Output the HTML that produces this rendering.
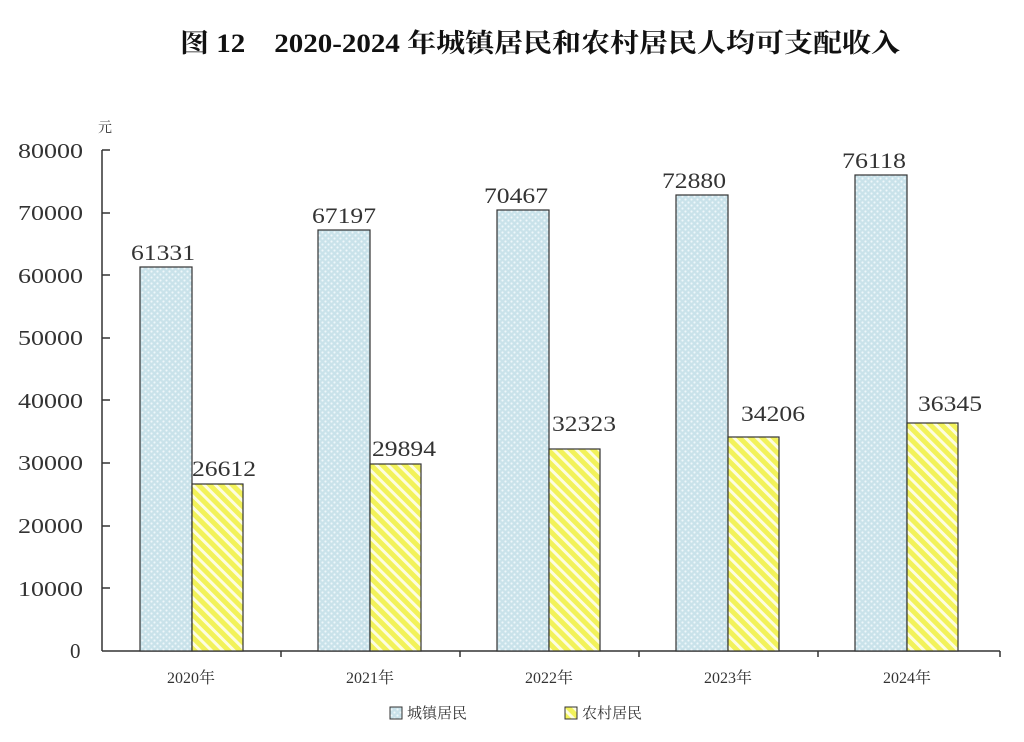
<!DOCTYPE html>
<html><head><meta charset="utf-8"><style>
html,body{margin:0;padding:0;background:#fff;}
svg{display:block;font-family:"Liberation Serif","Noto Serif CJK SC",serif;}
</style></head><body>
<svg width="1024" height="742" viewBox="0 0 1024 742">
<defs>
<pattern id="dots" width="6" height="6" patternUnits="userSpaceOnUse">
<rect width="6" height="6" fill="#c9e2ea"/>
<circle cx="1.5" cy="1.5" r="1.1" fill="#eef7fa"/>
<circle cx="4.5" cy="4.5" r="1.1" fill="#eef7fa"/>
</pattern>
<pattern id="stripes" width="8" height="8" patternUnits="userSpaceOnUse" patternTransform="rotate(-45)">
<rect width="8" height="8" fill="#f2f25a"/>
<rect width="3" height="8" fill="#fdfde0"/>
</pattern>
</defs>
<text x="180" y="52" textLength="720" lengthAdjust="spacingAndGlyphs" font-size="26" font-weight="bold" font-family="'Liberation Serif','Noto Serif CJK SC',serif" fill="#111">图 12　2020-2024 年城镇居民和农村居民人均可支配收入</text>
<text x="98" y="132" font-size="14" fill="#333">元</text>
<g font-size="21" fill="#333" lengthAdjust="spacingAndGlyphs">
<text x="18" y="158" textLength="65" lengthAdjust="spacingAndGlyphs">80000</text><text x="18" y="220" textLength="65" lengthAdjust="spacingAndGlyphs">70000</text><text x="18" y="283" textLength="65" lengthAdjust="spacingAndGlyphs">60000</text>
<text x="18" y="345" textLength="65" lengthAdjust="spacingAndGlyphs">50000</text><text x="18" y="408" textLength="65" lengthAdjust="spacingAndGlyphs">40000</text><text x="18" y="470" textLength="65" lengthAdjust="spacingAndGlyphs">30000</text>
<text x="18" y="533" textLength="65" lengthAdjust="spacingAndGlyphs">20000</text><text x="18" y="596" textLength="65" lengthAdjust="spacingAndGlyphs">10000</text><text x="70" y="658">0</text>
</g>
<g stroke="#333" stroke-width="1.5">
<line x1="102" y1="150" x2="102" y2="651"/>
<line x1="102" y1="651" x2="1000" y2="651"/>
<line x1="102" y1="150" x2="110" y2="150"/><line x1="102" y1="213" x2="110" y2="213"/>
<line x1="102" y1="275" x2="110" y2="275"/><line x1="102" y1="338" x2="110" y2="338"/>
<line x1="102" y1="400" x2="110" y2="400"/><line x1="102" y1="463" x2="110" y2="463"/>
<line x1="102" y1="526" x2="110" y2="526"/><line x1="102" y1="588" x2="110" y2="588"/>
<line x1="281" y1="651" x2="281" y2="657"/><line x1="460" y1="651" x2="460" y2="657"/>
<line x1="639" y1="651" x2="639" y2="657"/><line x1="818" y1="651" x2="818" y2="657"/>
<line x1="1000" y1="651" x2="1000" y2="657"/>
</g>
<g stroke="#333" stroke-width="1.2">
<rect x="140" y="267" width="52" height="384" fill="url(#dots)"/>
<rect x="192" y="484" width="51" height="167" fill="url(#stripes)"/>
<rect x="318" y="230" width="52" height="421" fill="url(#dots)"/>
<rect x="370" y="464" width="51" height="187" fill="url(#stripes)"/>
<rect x="497" y="210" width="52" height="441" fill="url(#dots)"/>
<rect x="549" y="449" width="51" height="202" fill="url(#stripes)"/>
<rect x="676" y="195" width="52" height="456" fill="url(#dots)"/>
<rect x="728" y="437" width="51" height="214" fill="url(#stripes)"/>
<rect x="855" y="175" width="52" height="476" fill="url(#dots)"/>
<rect x="907" y="423" width="51" height="228" fill="url(#stripes)"/>
</g>
<g font-size="22" fill="#333">
<text x="131" y="260" textLength="64" lengthAdjust="spacingAndGlyphs">61331</text><text x="192" y="476" textLength="64" lengthAdjust="spacingAndGlyphs">26612</text>
<text x="312" y="223" textLength="64" lengthAdjust="spacingAndGlyphs">67197</text><text x="372" y="456" textLength="64" lengthAdjust="spacingAndGlyphs">29894</text>
<text x="484" y="203" textLength="64" lengthAdjust="spacingAndGlyphs">70467</text><text x="552" y="431" textLength="64" lengthAdjust="spacingAndGlyphs">32323</text>
<text x="662" y="188" textLength="64" lengthAdjust="spacingAndGlyphs">72880</text><text x="741" y="421" textLength="64" lengthAdjust="spacingAndGlyphs">34206</text>
<text x="842" y="168" textLength="64" lengthAdjust="spacingAndGlyphs">76118</text><text x="918" y="411" textLength="64" lengthAdjust="spacingAndGlyphs">36345</text>
</g>
<g font-size="16" fill="#333" text-anchor="middle">
<text x="191" y="683">2020年</text><text x="370" y="683">2021年</text><text x="549" y="683">2022年</text>
<text x="728" y="683">2023年</text><text x="907" y="683">2024年</text>
</g>
<rect x="390" y="707" width="12" height="12" fill="url(#dots)" stroke="#333"/>
<text x="407" y="718" font-size="15" fill="#333">城镇居民</text>
<rect x="565" y="707" width="12" height="12" fill="url(#stripes)" stroke="#333"/>
<text x="582" y="718" font-size="15" fill="#333">农村居民</text>
</svg>
</body></html>
